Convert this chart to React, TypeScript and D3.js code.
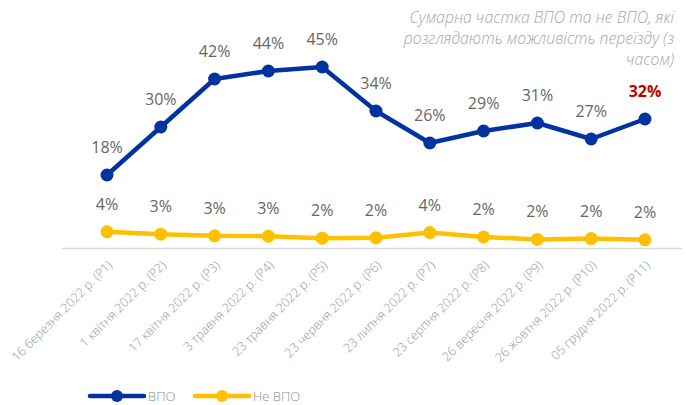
import React from "react";
import * as d3 from "d3";

const categories = [
  "16 березня 2022 р. (Р1)",
  "1 квітня 2022 р. (Р2)",
  "17 квітня 2022 р. (Р3)",
  "3 травня 2022 р. (Р4)",
  "23 травня 2022 р. (Р5)",
  "23 червня 2022 р. (Р6)",
  "23 липня 2022 р. (Р7)",
  "23 серпня 2022 р. (Р8)",
  "26 вересня 2022 р. (Р9)",
  "26 жовтня 2022 р. (Р10)",
  "05 грудня 2022 р. (Р11)",
];
const vpo = [18, 30, 42, 44, 45, 34, 26, 29, 31, 27, 32];
const vpoLabels = ["18%", "30%", "42%", "44%", "45%", "34%", "26%", "29%", "31%", "27%", "32%"];
const neVpo = [3.8, 3.2, 2.8, 2.7, 2.2, 2.3, 3.6, 2.5, 1.9, 2.1, 1.8];
const neVpoLabels = ["4%", "3%", "3%", "3%", "2%", "2%", "4%", "2%", "2%", "2%", "2%"];
const titleLines = [
  "Сумарна частка ВПО та не ВПО, які",
  "розглядають можливість переїзду (з",
  "часом)",
];
const seriesNames = ["ВПО", "Не ВПО"];

const W = 686;
const H = 405;
const BLUE = "#0033A0";
const YELLOW = "#FFC000";
const FONT = "'Open Sans', 'Noto Sans', sans-serif";

export default function App() {
  const x = d3.scalePoint<string>().domain(categories).range([107, 645]);
  const y = d3.scaleLinear().domain([0, 45]).range([247, 67]);
  const line = d3
    .line<number>()
    .x((_, i) => x(categories[i]) as number)
    .y((d) => y(d));

  const series = [
    { values: vpo, labels: vpoLabels, color: BLUE },
    { values: neVpo, labels: neVpoLabels, color: YELLOW },
  ];

  return (
    <svg
      width={W}
      height={H}
      style={{ position: "absolute", left: 0, top: 0, background: "#fff" }}
      fontFamily={FONT}
    >
      {/* title */}
      <text
        textAnchor="end"
        fill="#a6a6a6"
        fontStyle="italic"
        fontSize={15.8}
        fontWeight={300}
      >
        {titleLines.map((t, i) => (
          <tspan key={i} x={674} y={23 + i * 21}>
            {t}
          </tspan>
        ))}
      </text>

      {/* axis line */}
      <line x1={62} x2={682} y1={248.5} y2={248.5} stroke="#d9d9d9" strokeWidth={1.5} />

      {/* category labels */}
      {categories.map((c) => (
        <text
          key={c}
          transform={`translate(${(x(c) as number) + 6},${266}) rotate(-45)`}
          textAnchor="end"
          fontSize={12.5}
          fill="#959595"
          fontWeight={300}
        >
          {c}
        </text>
      ))}

      {series.map((s, si) => (
        <g key={si}>
          <path d={line(s.values) || ""} fill="none" stroke={s.color} strokeWidth={4.5} strokeLinejoin="round" />
          {s.values.map((v, i) => (
            <circle key={i} cx={x(categories[i]) as number} cy={y(v)} r={6.5} fill={s.color} />
          ))}
          {s.values.map((v, i) => {
            const isLast = si === 0 && i === s.values.length - 1;
            return (
              <text
                key={"l" + i}
                x={x(categories[i]) as number}
                y={y(v) - 22}
                textAnchor="middle"
                fontSize={16}
                fill={isLast ? "#C00000" : "#666666"}
                fontWeight={isLast ? 700 : 400}
              >
                {s.labels[i]}
              </text>
            );
          })}
        </g>
      ))}

      {/* legend */}
      {[0, 1].map((i) => {
        const x0 = i === 0 ? 90 : 195;
        const col = i === 0 ? BLUE : YELLOW;
        return (
          <g key={i}>
            <line x1={x0} x2={x0 + 54} y1={396} y2={396} stroke={col} strokeWidth={4.5} strokeLinecap="round" />
            <circle cx={x0 + 27} cy={396} r={6} fill={col} />
            <text x={x0 + 58} y={401} fontSize={13} fill="#8c8c8c" fontWeight={300}>
              {seriesNames[i]}
            </text>
          </g>
        );
      })}
    </svg>
  );
}
